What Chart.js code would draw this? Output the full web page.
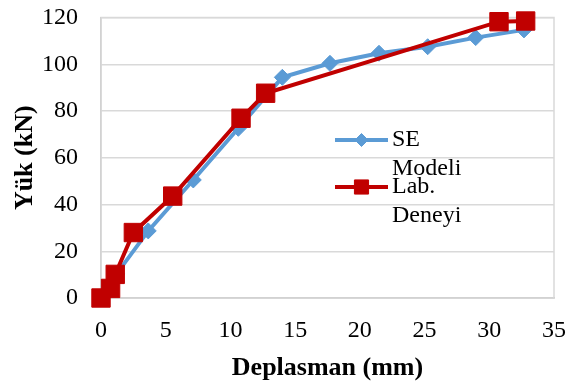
<!DOCTYPE html>
<html>
<head>
<meta charset="utf-8">
<script src="https://cdn.jsdelivr.net/npm/chart.js@4.4.1/dist/chart.umd.min.js"></script>
<style>
html,body{margin:0;padding:0;background:#fff;}
#wrap{width:573px;height:385px;}
</style>
</head>
<body>
<div id="wrap"><canvas id="c" width="573" height="385"></canvas></div>
<script>
// Data
const seLabel = ['SE', 'Modeli'];
const seX = [0, 0.7, 1.2, 3.65, 7.13, 10.61, 14.01, 17.69, 21.48, 25.24, 28.95, 32.68];
const seY = [0, 4, 10.3, 28.7, 50.5, 72.6, 94.4, 100.4, 104.7, 107.5, 111.4, 114.7];

const labLabel = ['Lab.', 'Deneyi'];
const labX = [0, 0.74, 1.1, 2.5, 5.54, 10.82, 12.72, 30.75, 32.81];
const labY = [0, 4.1, 10.1, 28.0, 43.6, 76.9, 87.6, 118.2, 118.5];

const xTicks = [0, 5, 10, 15, 20, 25, 30, 35];
const yTicks = [0, 20, 40, 60, 80, 100, 120];
const xTitle = 'Deplasman (mm)';
const yTitle = 'Yük (kN)';

const BLUE = '#5B9BD5';
const RED = '#C00000';
const FONT = "'Liberation Serif', 'Times New Roman', serif";

const toPts = (xs, ys) => xs.map((x, i) => ({x: x, y: ys[i]}));

const zeroPad = s => { s.paddingTop = 0; s.paddingBottom = 0; s.paddingLeft = 0; s.paddingRight = 0; };

const frame = {
  id: 'frame',
  beforeDatasetsDraw(chart) {
    const a = chart.chartArea, ctx = chart.ctx;
    ctx.save();
    ctx.strokeStyle = '#D9D9D9';
    ctx.lineWidth = 1.5;
    ctx.strokeRect(a.left, a.top, a.right - a.left, a.bottom - a.top);
    ctx.restore();
  }
};

const innerLegend = {
  id: 'innerLegend',
  afterDraw(chart) {
    const ctx = chart.ctx;
    const items = [
      {text: seLabel, color: BLUE, style: 'rectRot', radius: 6.5, y: 140},
      {text: labLabel, color: RED, style: 'rect', radius: 10, y: 187}
    ];
    const x0 = 335, x1 = 388, tx = 392;
    ctx.save();
    items.forEach(it => {
      ctx.strokeStyle = it.color;
      ctx.lineWidth = 4;
      ctx.beginPath();
      ctx.moveTo(x0, it.y);
      ctx.lineTo(x1, it.y);
      ctx.stroke();
      ctx.fillStyle = it.color;
      ctx.lineWidth = 1;
      Chart.helpers.drawPoint(ctx, {pointStyle: it.style, radius: it.radius, borderWidth: 1}, (x0 + x1) / 2, it.y);
      ctx.fillStyle = '#000';
      ctx.font = '24px ' + FONT;
      ctx.textBaseline = 'middle';
      ctx.textAlign = 'left';
      it.text.forEach((line, k) => ctx.fillText(line, tx, it.y + k * 28.8));
    });
    ctx.restore();
  }
};

new Chart(document.getElementById('c'), {
  type: 'line',
  data: {
    datasets: [
      {
        label: labLabel.join(' '),
        data: toPts(labX, labY),
        borderColor: RED,
        backgroundColor: RED,
        borderWidth: 4,
        pointStyle: 'rect',
        pointRadius: 13,
        pointBorderWidth: 1,
        pointBackgroundColor: RED,
        pointBorderColor: RED,
        tension: 0,
        fill: false,
        clip: false
      },
      {
        label: seLabel.join(' '),
        data: toPts(seX, seY),
        borderColor: BLUE,
        backgroundColor: BLUE,
        borderWidth: 4,
        pointStyle: 'rectRot',
        pointRadius: 8,
        pointBorderWidth: 1,
        pointBackgroundColor: BLUE,
        pointBorderColor: BLUE,
        tension: 0,
        fill: false,
        clip: false
      }
    ]
  },
  options: {
    responsive: false,
    animation: false,
    layout: {autoPadding: false, padding: {top: 17.5, right: 19, left: 0, bottom: 0}},
    plugins: {legend: {display: false}, tooltip: {enabled: false}},
    scales: {
      x: {
        type: 'linear',
        min: 0, max: 35,
        afterFit: s => { s.height = 87; zeroPad(s); },
        afterBuildTicks: s => { s.ticks = xTicks.map(v => ({value: v})); },
        grid: {display: false, drawTicks: false},
        border: {display: true, color: '#BFBFBF', width: 1.5},
        ticks: {color: '#000', padding: 18, font: {family: FONT, size: 24}},
        title: {display: true, text: xTitle, color: '#000', padding: {top: 0, bottom: 1},
                font: {family: FONT, size: 26, weight: 'bold'}}
      },
      y: {
        type: 'linear',
        min: 0, max: 120,
        afterFit: s => { s.width = 101; zeroPad(s); },
        afterBuildTicks: s => { s.ticks = yTicks.map(v => ({value: v})); },
        grid: {display: true, color: '#D9D9D9', lineWidth: 1.5, drawTicks: false},
        border: {display: true, color: '#BFBFBF', width: 1.5},
        ticks: {color: '#000', padding: 23, font: {family: FONT, size: 24}},
        title: {display: true, text: yTitle, color: '#000', padding: {top: 10, bottom: 0},
                font: {family: FONT, size: 26, weight: 'bold'}}
      }
    }
  },
  plugins: [frame, innerLegend]
});
</script>
</body>
</html>
